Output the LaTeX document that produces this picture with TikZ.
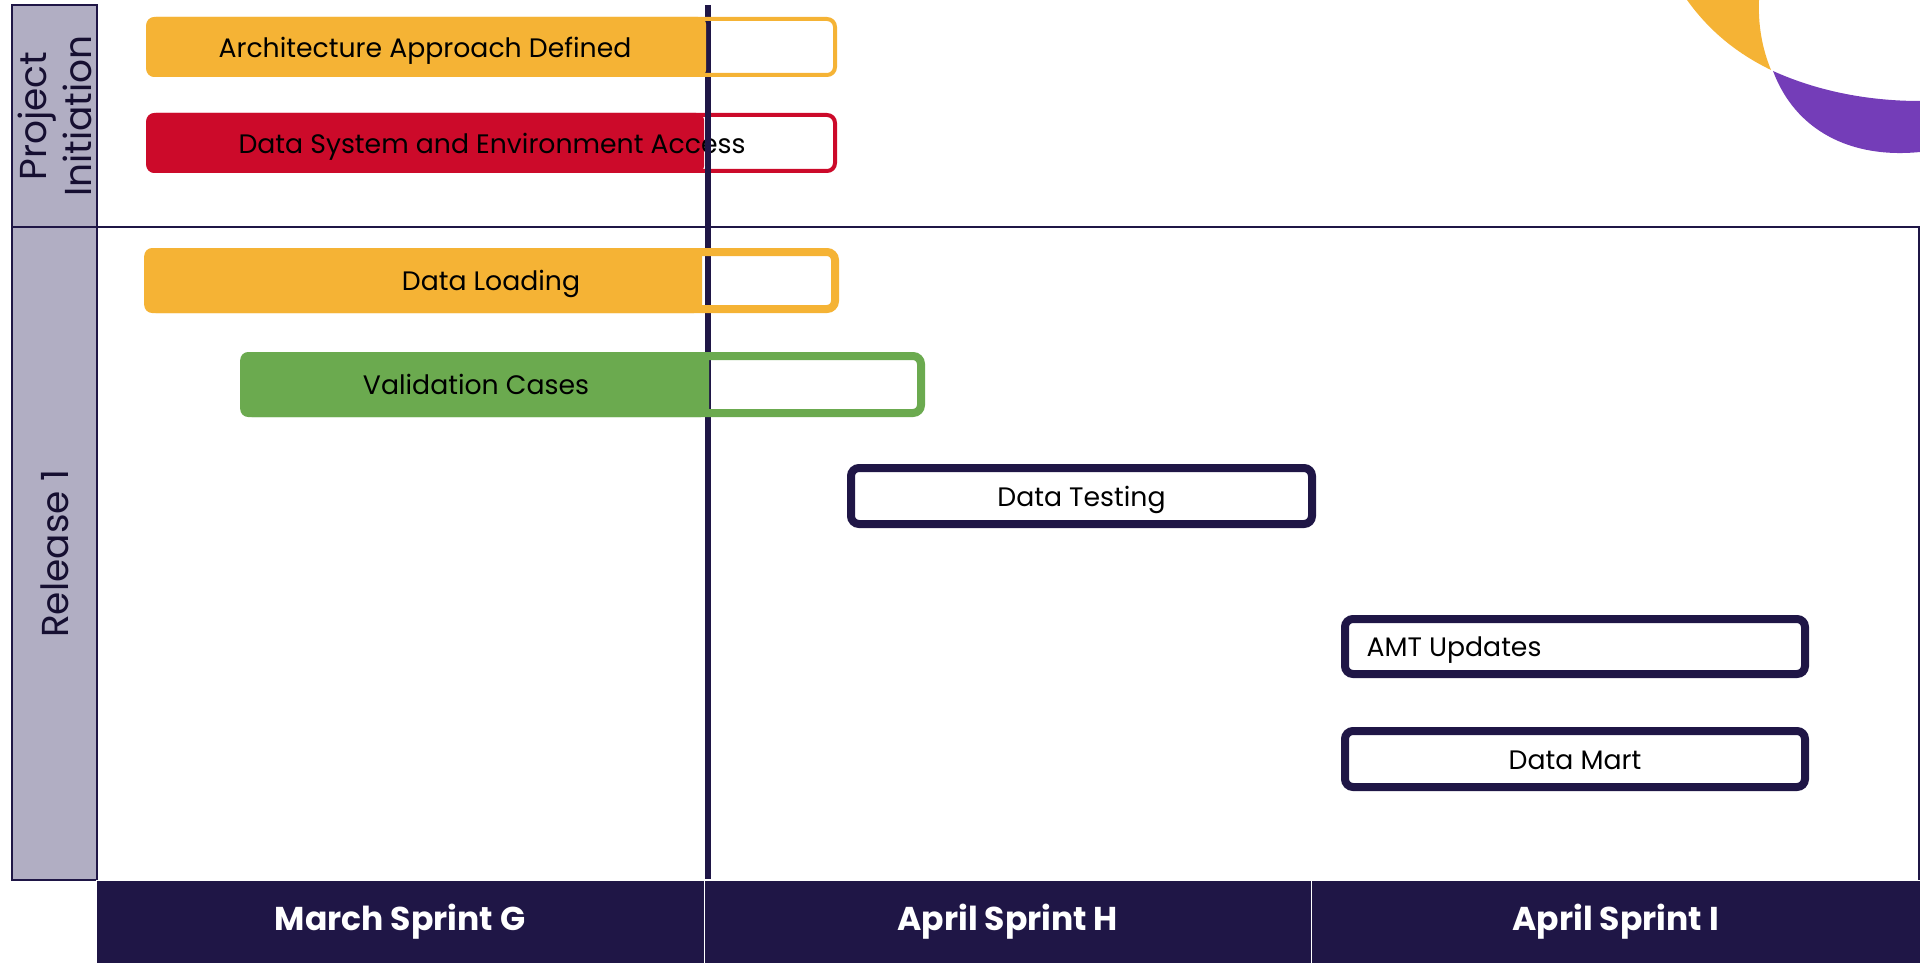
\documentclass[tikz,border=0pt]{standalone}
\usepackage{fontspec}
\setmainfont{Poppins}
\usetikzlibrary{positioning}
\definecolor{navy}{HTML}{1F1646}
\definecolor{lilac}{HTML}{B1AEC3}
\definecolor{gold}{HTML}{F5B335}
\definecolor{crimson}{HTML}{CC0A2A}
\definecolor{leaf}{HTML}{6BAA4F}
\definecolor{violet}{HTML}{743DB8}

\begin{document}
\begin{tikzpicture}[x=1pt, y=-1pt, font=\fontsize{26.7}{32}\selectfont]
        \tikzset{
        bar/.style      = {draw, rounded corners=8pt, inner sep=0pt, minimum height=#1},
        done/.style     = {rounded corners=8pt, inner sep=0pt, anchor=west},
        bartext/.style  = {anchor=base, inner sep=0pt},
        lane/.style     = {draw=navy, line width=1.5pt, fill=lilac, inner sep=0pt, outer sep=0pt, minimum width=85pt},
        lanetext/.style = {rotate=90, align=center, text=navy!70!black, font=\fontsize{37.5}{45}\selectfont},
        sprint/.style   = {draw=white, line width=1pt, fill=navy, text=white, inner sep=0pt, minimum height=83pt, font=\fontsize{33}{36}\selectfont\bfseries}
        }
        \useasboundingbox (0,0) rectangle (1920,963);

        % Corner swoosh
        \fill[gold] (1687,0) .. controls (1710,32) and (1738,54) .. (1771,70) .. controls (1762,48) and (1758,25) .. (1759,0) -- cycle;
        \fill[violet] (1773,71) .. controls (1815,90) and (1865,101) .. (1920,101) -- (1920,152) .. controls (1850,159) and (1795,130) .. (1773,71) -- cycle;

        % Lanes
        \node[lane, minimum height=222pt] (initlane) at (54.5,116) {};
        \node[lane, minimum height=653pt] (rellane) at (54.5,553.5) {};
        \node[lanetext] (inittext) at (initlane.center) {Project\\Initiation};
        \node[lanetext] (reltext) at (rellane.center) {Release 1};
        \coordinate (gridtop) at (1918.5,227);
        \coordinate (gridbot) at (1918.5,880);
        \draw[navy, line width=2pt] (initlane.south east) -- (gridtop) -- (gridbot);

        % Sprints
        \node[sprint, minimum width=608pt] (sprintg) at (400,921.5) {March Sprint G};
        \node[sprint, minimum width=607.5pt] (sprinth) at (1007.75,921.5) {April Sprint H};
        \node[sprint, minimum width=608.5pt] (sprinti) at (1615.75,921.5) {April Sprint I};

        % Red bar sits under the today line
        \node[bar=56pt, draw=crimson, line width=4pt, minimum width=687pt] (accessbar) at (491.5,143) {};
        \node[done, fill=crimson, minimum width=558pt, minimum height=60pt] (accessdone) at (146,143) {};
        \node[bartext] at (492,153.2) (accesstext) {Data System and Environment Access};

        % Today line
        \coordinate (nowtop) at (708,5);
        \coordinate (nowbot) at (708,879);
        \draw[navy, line width=6pt] (nowtop) -- (nowbot);

        % Other bars
        \node[bar=56pt, draw=gold, line width=4pt, minimum width=687pt] (archbar) at (491.5,47) {};
        \node[done, fill=gold, minimum width=560pt, minimum height=60pt] (archdone) at (146,47) {};
        \node[bartext] at (425,57.2) (archtext) {Architecture Approach Defined};

        \node[bar=57pt, draw=gold, line width=8pt, minimum width=687pt] (loadbar) at (491.5,280.5) {};
        \node[done, fill=gold, minimum width=558pt, minimum height=65pt] (loaddone) at (144,280.5) {};
        \node[bartext] at (491,290.7) (loadtext) {Data Loading};

        \node[bar=57pt, draw=leaf, line width=8pt, minimum width=677pt] (validbar) at (582.5,384.5) {};
        \node[done, fill=leaf, minimum width=469pt, minimum height=65pt] (validdone) at (240,384.5) {};
        \node[bartext] at (476,394.7) (validtext) {Validation Cases};

        \node[bar=56pt, draw=navy, line width=8pt, minimum width=461pt] (testbar) at (1081.5,496) {};
        \node[bartext] at (1081.5,506.2) (testtext) {Data Testing};
        \node[bar=55pt, draw=navy, line width=8pt, minimum width=460pt] (amtbar) at (1575,646.5) {};
        \node[bartext] at (1454,656.2) (amttext) {AMT Updates};
        \node[bar=56pt, draw=navy, line width=8pt, minimum width=460pt] (martbar) at (1575,759) {};
        \node[bartext] at (1575,769.2) (marttext) {Data Mart};
    \end{tikzpicture}
\end{document}
